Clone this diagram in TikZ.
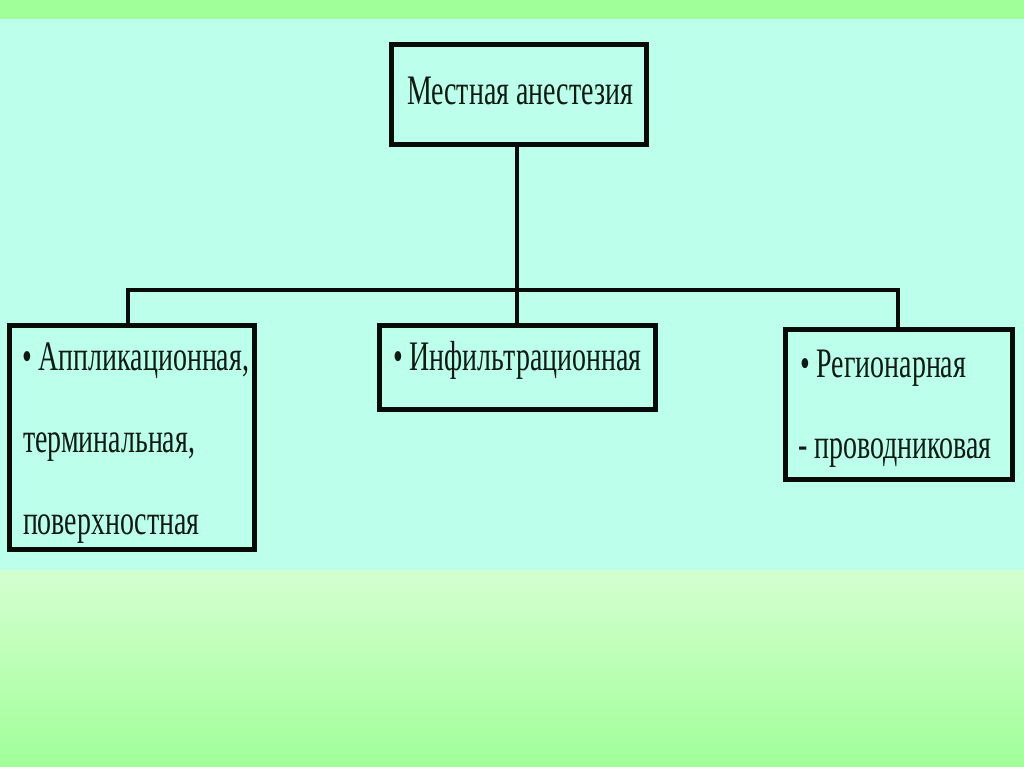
\documentclass[tikz,border=0pt]{standalone}
\usepackage{fontspec}
\setmainfont{Liberation Serif}
\definecolor{bandgreen}{HTML}{A0FF98}
\definecolor{panecyan}{HTML}{BCFFEB}
\definecolor{gradtop}{HTML}{D4FFD0}
\definecolor{inkc}{HTML}{0E1A12}
\definecolor{linec}{HTML}{080C08}
\newcommand\squeezed[1]{\scalebox{0.665}[1]{#1}}
\begin{document}
\begin{tikzpicture}[x=1pt,y=-1pt,
  boxnode/.style={draw=linec,line width=5pt,rectangle,inner sep=0pt,outer sep=0pt},
  lbl/.style={anchor=base west,inner sep=0pt,outer sep=0pt,text=inkc,font=\fontsize{42}{42}\selectfont},
  conn/.style={draw=linec,line width=4.5pt,line join=miter}]
\useasboundingbox (0,0) rectangle (1024,767);
\fill[bandgreen] (0,0) rectangle (1024,19);
\fill[panecyan] (0,19) rectangle (1024,570);
\shade[top color=gradtop,bottom color=bandgreen] (0,570) rectangle (1024,767);
% boxes
\node[boxnode,minimum width=255pt,minimum height=100pt] (top) at (518.5,94.5) {};
\node[boxnode,minimum width=276pt,minimum height=84pt] (mid) at (517.5,367.5) {};
\node[boxnode,minimum width=245pt,minimum height=224pt] (left) at (132,437.5) {};
\node[boxnode,minimum width=227pt,minimum height=150pt] (right) at (899,404.5) {};
% texts
\node[lbl] (ttop) at (407,105) {\squeezed{Местная анестезия}};
\node[lbl] (tmid) at (393,370) {\squeezed{• Инфильтрационная}};
\node[lbl] (tl1) at (22,370) {\squeezed{• Аппликационная,}};
\node[lbl] (tl2) at (23,452) {\squeezed{терминальная,}};
\node[lbl] (tl3) at (23,534) {\squeezed{поверхностная}};
\node[lbl] (tr1) at (800,377) {\squeezed{• Регионарная}};
\node[lbl] (tr2) at (798,458) {\squeezed{- проводниковая}};
% connectors
\coordinate (busL) at (128,290);
\coordinate (busC) at (517,290);
\coordinate (busR) at (898,290);
\draw[conn] (top.south -| busC) -- (busC);
\draw[conn] (busL |- left.north) -- (busL) -- (busR) -- (busR |- right.north);
\draw[conn] (busC) -- (busC |- mid.north);
\end{tikzpicture}
\end{document}
